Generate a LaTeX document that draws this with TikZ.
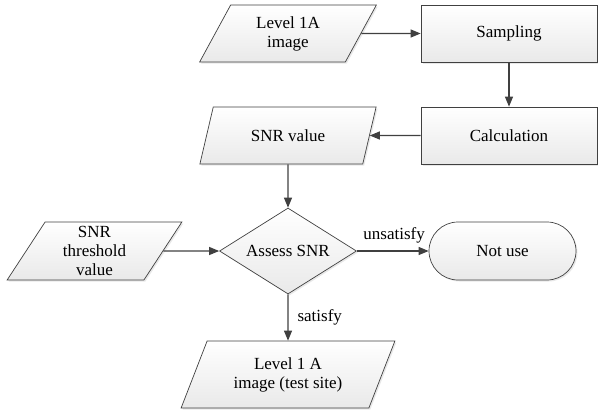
\documentclass[tikz,border=0pt]{standalone}
\usepackage{fontspec}
\setmainfont{Liberation Serif}
\usetikzlibrary{arrows.meta,shapes.geometric,shapes.misc,shadows}
\definecolor{edg}{HTML}{404040}
\definecolor{fil}{HTML}{E9E9E9}

\begin{document}
\begin{tikzpicture}[x=1pt,y=-1pt,
  base/.style={draw=edg,line width=0.7pt,top color=white,bottom color=fil,align=center,inner sep=1pt,
    font=\fontsize{17}{19}\selectfont,drop shadow={opacity=0.18,shadow xshift=1.5pt,shadow yshift=-1.5pt}},
  io/.style={base,trapezium,trapezium left angle=64,trapezium right angle=116,trapezium stretches=true,
    minimum width=177pt,minimum height=57pt},
  proc/.style={base,rectangle,minimum width=176pt,minimum height=57pt},
  flow/.style={draw=edg,line width=1.1pt,-{Triangle[length=10pt,width=8pt]}},
  lbl/.style={font=\fontsize{17}{19}\selectfont,inner sep=0pt}]
 \useasboundingbox (0,0) rectangle (598,410);
 \node[io] (lvl) at (288,33.5) {Level 1A\\image};
 \node[proc] (samp) at (509,33.5) {Sampling};
 \node[proc] (calc) at (509,135.5) {Calculation};
 \node[io] (snr) at (288,135.5) {SNR value};
 \node[base,diamond,shape aspect=1.6,minimum width=137pt,minimum height=86pt,inner sep=0pt] (assess) at (288,251) {Assess SNR};
 \node[io,minimum width=175pt,minimum height=58pt] (thr) at (94.5,251) {SNR\\threshold\\value};
 \node[base,rounded rectangle,minimum width=149pt,minimum height=58pt] (notuse) at (502.5,251) {Not use};
 \node[io,minimum width=214pt,minimum height=67pt] (out) at (288,374.5) {Level 1 A\\image (test site)};
 \draw[flow] (lvl) -- (samp);
 \draw[flow] (samp) -- (calc);
 \draw[flow] (calc) -- (snr);
 \draw[flow] (snr) -- (assess);
 \draw[flow] (thr) -- (assess);
 \draw[flow] (assess) -- node[lbl,above=7pt,pos=0.52] (unsat) {unsatisfy} (notuse);
 \draw[flow] (assess) -- node[lbl,right=9pt,pos=0.5] (sat) {satisfy} (out);
\end{tikzpicture}
\end{document}
